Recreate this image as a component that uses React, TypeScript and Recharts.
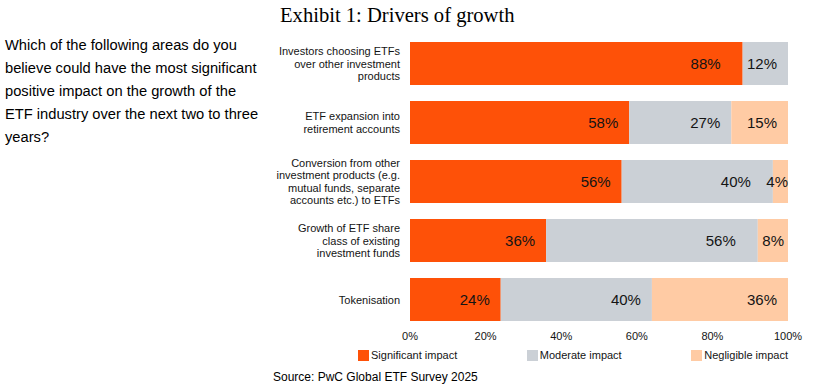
import React from 'react';
import { BarChart, Bar, XAxis, YAxis, LabelList } from 'recharts';

const categories = [
  'Investors choosing ETFs\nover other investment\nproducts',
  'ETF expansion into\nretirement accounts',
  'Conversion from other\ninvestment products (e.g.\nmutual funds, separate\naccounts etc.) to ETFs',
  'Growth of ETF share\nclass of existing\ninvestment funds',
  'Tokenisation',
];
const significant = [88, 58, 56, 36, 24];
const moderate = [12, 27, 40, 56, 40];
const negligible = [0, 15, 4, 8, 36];
const xTicks = [0, 20, 40, 60, 80, 100];

const series = [
  { key: 'significant', name: 'Significant impact', color: '#FE5108' },
  { key: 'moderate', name: 'Moderate impact', color: '#CBD0D6' },
  { key: 'negligible', name: 'Negligible impact', color: '#FFCBA4' },
];

const data = categories.map((name, i) => ({
  name,
  significant: significant[i],
  moderate: moderate[i],
  negligible: negligible[i],
}));

const FONT = '"Liberation Sans", Arial, Helvetica, sans-serif';
const INK = '#141414';

const CategoryTick = (props: any) => {
  const { x, y, payload } = props;
  const lines = String(payload.value).split('\n');
  const lh = 12.5;
  const start = y - ((lines.length - 1) * lh) / 2;
  return (
    <text x={x} y={start} textAnchor="end" fontSize={11} fontFamily={FONT} fill={INK}>
      {lines.map((l, i) => (
        <tspan key={i} x={x} y={start + i * lh} dominantBaseline="central">
          {l}
        </tspan>
      ))}
    </text>
  );
};

// label sits at the right end of its segment; pushed further left when the
// following segment is narrow, and hugs the edge for tiny end segments
const makeLabel = (seriesIdx: number) => (props: any) => {
  const { x, y, width, height, value, index } = props;
  if (!value) return null;
  const next = series[seriesIdx + 1];
  const nextVal = next ? (data[index] as any)[next.key] : 0;
  let tx = x + width - 11;
  if (nextVal > 0 && nextVal < 13) tx = x + width - 22;
  if (value < 10) tx = x + width - (width > 20 ? 4 : 0);
  return (
    <text
      x={tx}
      y={y + height / 2}
      textAnchor="end"
      dominantBaseline="central"
      fontSize={15}
      fontFamily={FONT}
      fill={INK}
    >
      {value}%
    </text>
  );
};

export default function App() {
  return (
    <div style={{ position: 'absolute', left: 0, top: 0, width: 816, height: 390, background: '#fff', fontFamily: FONT, color: INK }}>
      <div style={{ position: 'absolute', left: 280, top: 3, fontFamily: '"Liberation Serif", "Times New Roman", serif', fontSize: 20.6, lineHeight: '24px', color: '#000' }}>
        Exhibit 1: Drivers of growth
      </div>
      <div style={{ position: 'absolute', left: 5, top: 34, fontSize: 14.7, lineHeight: '23px', color: '#000' }}>
        Which of the following areas do you<br />
        believe could have the most significant<br />
        positive impact on the growth of the<br />
        ETF industry over the next two to three<br />
        years?
      </div>
      <div style={{ position: 'absolute', left: 0, top: 0 }}>
        <BarChart
          width={816}
          height={390}
          data={data}
          layout="vertical"
          barSize={43}
          margin={{ top: 34, right: 28, left: 270, bottom: 31 }}
        >
          <XAxis
            type="number"
            domain={[0, 100]}
            ticks={xTicks}
            tickFormatter={(v) => `${v}%`}
            axisLine={false}
            tickLine={false}
            tickSize={0}
            tickMargin={3}
            interval={0}
            tick={{ fontSize: 11, fill: INK, fontFamily: FONT }}
          />
          <YAxis
            type="category"
            dataKey="name"
            width={140}
            axisLine={false}
            tickLine={false}
            tickSize={0}
            tickMargin={10}
            interval={0}
            tick={<CategoryTick />}
          />
          {series.map((s, si) => (
            <Bar key={s.key} dataKey={s.key} name={s.name} stackId="a" fill={s.color} isAnimationActive={false}>
              <LabelList dataKey={s.key} content={makeLabel(si)} />
            </Bar>
          ))}
        </BarChart>
      </div>
      <div style={{ position: 'absolute', left: 358, top: 349, width: 430, display: 'flex', justifyContent: 'space-between', fontSize: 11, lineHeight: '13px' }}>
        {series.map((s) => (
          <div key={s.key} style={{ display: 'flex', alignItems: 'center' }}>
            <span style={{ display: 'inline-block', width: 11, height: 11, background: s.color, marginRight: 2 }} />
            <span>{s.name}</span>
          </div>
        ))}
      </div>
      <div style={{ position: 'absolute', left: 273, top: 370, fontSize: 12, lineHeight: '15px', color: '#000' }}>
        Source: PwC Global ETF Survey 2025
      </div>
    </div>
  );
}
